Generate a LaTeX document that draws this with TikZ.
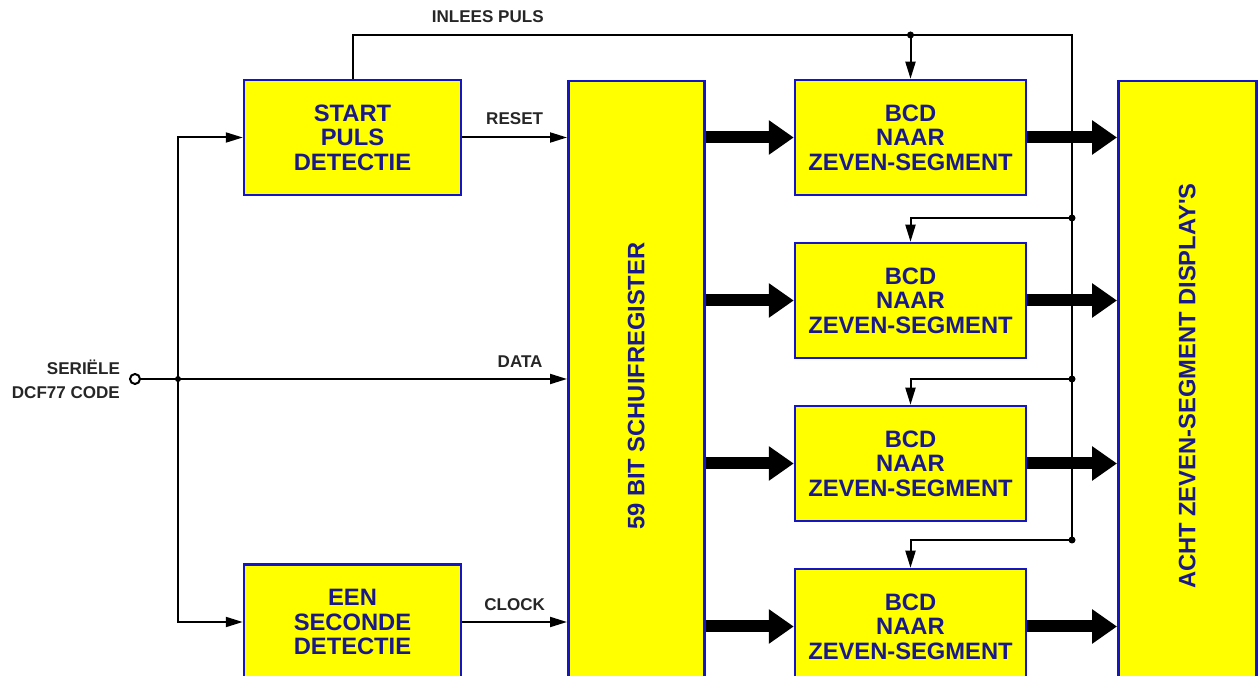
\documentclass[tikz,border=0pt]{standalone}
\usepackage{fontspec}
\setmainfont{Liberation Sans}
\usetikzlibrary{arrows.meta, positioning}
\definecolor{boxblue}{RGB}{20,20,200}
\definecolor{txtblue}{RGB}{25,25,140}
\definecolor{boxfill}{RGB}{255,255,0}
\tikzset{
  boxtxt/.style={text=txtblue, font=\fontsize{13.5}{14}\selectfont\bfseries},
  block/.style={rectangle, draw=boxblue, line width=0.05cm, fill=boxfill,
    align=center, inner sep=0pt, boxtxt},
  lbl/.style={font=\fontsize{9.7}{13.6}\selectfont\bfseries, text=black!85,
    inner sep=1pt},
  wire/.style={line width=0.04cm},
  arr/.style={-{Triangle[length=0.34cm, width=0.2cm]}, line width=0.04cm},
  busarr/.style={-{Triangle[length=0.5cm, width=0.66cm]}, line width=0.24cm},
}
\begin{document}
\begin{tikzpicture}[node distance=0.91cm]
  \clip (0,0) rectangle (25.16,-13.52);

  % Detectors
  \node[block, minimum width=4.34cm, minimum height=2.3cm] (start) at (7.05,-2.75) {START\\PULS\\DETECTIE};
  \node[block, minimum width=4.34cm, minimum height=2.3cm, below=7.34cm of start] (sec) {EEN\\SECONDE\\DETECTIE};

  % Shift register
  \node[block, anchor=north west, minimum width=2.72cm, minimum height=12.2cm,
    label={[boxtxt, rotate=90]center:59 BIT SCHUIFREGISTER}] (reg) at (11.34,-1.6) {};

  % Decoders
  \node[block, minimum width=4.62cm, minimum height=2.3cm] (bcdA) at (18.21,-2.75) {BCD\\NAAR\\ZEVEN-SEGMENT};
  \node[block, minimum width=4.62cm, minimum height=2.3cm, below=of bcdA] (bcdB) {BCD\\NAAR\\ZEVEN-SEGMENT};
  \node[block, minimum width=4.62cm, minimum height=2.3cm, below=of bcdB] (bcdC) {BCD\\NAAR\\ZEVEN-SEGMENT};
  \node[block, minimum width=4.62cm, minimum height=2.3cm, below=of bcdC] (bcdD) {BCD\\NAAR\\ZEVEN-SEGMENT};

  % Displays
  \node[block, anchor=north west, minimum width=2.76cm, minimum height=12.2cm,
    label={[boxtxt, rotate=90]center:ACHT ZEVEN-SEGMENT DISPLAY\textquotesingle S}] (disp) at (22.34,-1.6) {};

  % Input
  \node[circle, draw, line width=0.04cm, minimum size=0.2cm, inner sep=0pt] (in) at (2.7,-7.58) {};
  \node[lbl, anchor=east, align=right] (inlbl) at (2.44,-7.58) {SERIËLE\\DCF77 CODE};
  \coordinate (split) at (3.56,-7.58);

  \draw[arr] (in) -- (in -| reg.west) node[lbl, pos=0.89, above=0.18cm] {DATA};
  \fill (split) circle (0.06cm);
  \draw[arr] (split) |- (start.west);
  \draw[arr] (split) |- (sec.west);
  \draw[arr] (start.east) -- (start.east -| reg.west) node[lbl, midway, above=0.2cm] {RESET};
  \draw[arr] (sec.east) -- (sec.east -| reg.west) node[lbl, midway, above=0.18cm] {CLOCK};

  % Load pulse
  \coordinate (top) at (21.44,-0.7);
  \coordinate (tapA) at (bcdA.north |- top);
  \coordinate (tapB) at (21.44,-4.36);
  \coordinate (tapC) at (21.44,-7.58);
  \coordinate (tapD) at (21.44,-10.8);
  \draw[wire] (start.north) |- (top) node[lbl, pos=0.594, above=0.2cm] {INLEES PULS} -- (tapD);
  \draw[arr] (tapA) -- (bcdA.north);
  \draw[arr] (tapB) -| (bcdB.north);
  \draw[arr] (tapC) -| (bcdC.north);
  \draw[arr] (tapD) -| (bcdD.north);
  \foreach \t in {tapA,tapB,tapC,tapD} \fill (\t) circle (0.07cm);

  % Data buses
  \foreach \b in {bcdA,bcdB,bcdC,bcdD} {
    \draw[busarr] (reg.east |- \b.west) -- (\b.west);
    \draw[busarr] (\b.east) -- (\b.east -| disp.west);
  }
\end{tikzpicture}
\end{document}
